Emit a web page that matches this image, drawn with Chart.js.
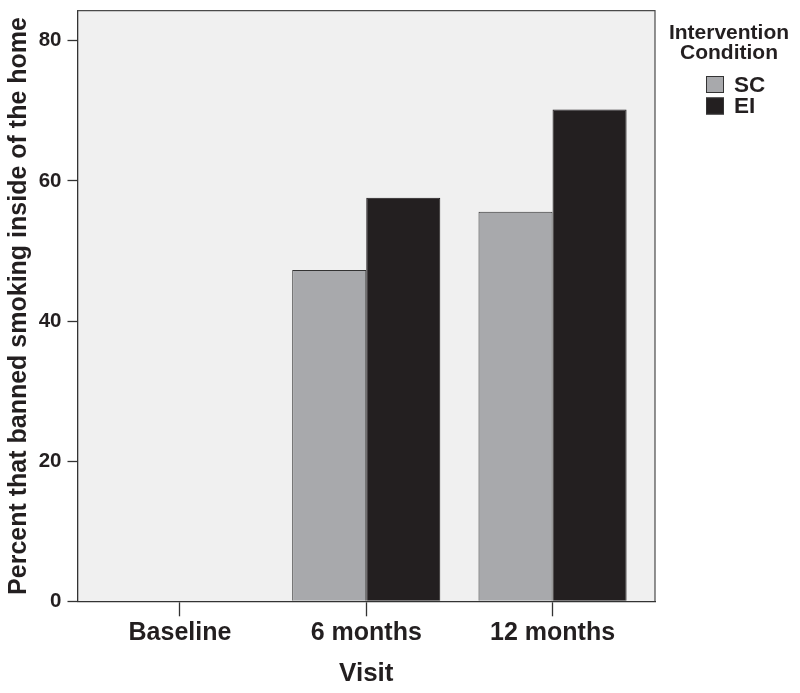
<!DOCTYPE html>
<html>
<head>
<meta charset="utf-8">
<script src="https://cdn.jsdelivr.net/npm/chart.js@4"></script>
<style>
    html, body { margin: 0; padding: 0; background: #fff; }
    #wrap { width: 800px; height: 693px; }
</style>
</head>
<body>
<div id="wrap"><canvas id="chart" width="800" height="693"></canvas></div>
<script>
// Visits on the x axis
const visits = ['Baseline', '6 months', '12 months'];

// Percent that banned smoking inside of the home, per condition
const scValues = [0, 47.3, 55.6];
const eiValues = [0, 57.6, 70.2];

const seriesNames = ['SC', 'EI'];
const seriesColours = ['#a8a9ac', '#231f20'];
const yTicks = [0, 20, 40, 60, 80];

const legendTitle = ['Intervention', 'Condition'];
const xTitle = 'Visit';
const yTitle = 'Percent that banned smoking inside of the home';

const FONT = "'Liberation Sans', Arial, sans-serif";
const INK = '#231f20';

/**
 * Grey plot background plus the top/right frame lines
 */
const plotFrame = {
    id: 'plotFrame',
    beforeDraw: (chart) => {
        const { ctx } = chart;
        const { left, top, right, bottom } = chart.chartArea;
        ctx.save();
        ctx.fillStyle = '#f0f0f0';
        ctx.fillRect(left, top, right - left, bottom - top);
        ctx.restore();
    },
    afterDraw: (chart) => {
        const { ctx } = chart;
        const { left, top, right, bottom } = chart.chartArea;
        ctx.save();
        ctx.strokeStyle = '#4a4a4a';
        ctx.lineWidth = 1.2;
        ctx.beginPath();
        ctx.moveTo(left, top);
        ctx.lineTo(right, top);
        ctx.lineTo(right, bottom);
        ctx.stroke();
        ctx.restore();
    },
};

/**
 * Legend on the right, SPSS style: two-line title and square swatches
 */
const sideLegend = {
    id: 'sideLegend',
    afterDraw: (chart) => {
        const { ctx } = chart;
        const cx = 729;
        ctx.save();
        ctx.fillStyle = INK;
        ctx.textAlign = 'center';
        ctx.textBaseline = 'middle';
        ctx.font = 'bold 21px ' + FONT;
        legendTitle.forEach((line, i) => ctx.fillText(line, cx, 33 + i * 20));

        ctx.textAlign = 'left';
        ctx.font = 'bold 22.5px ' + FONT;
        chart.data.datasets.forEach((ds, i) => {
            const y = 76 + i * 21.5;
            ctx.fillStyle = ds.backgroundColor;
            ctx.fillRect(706, y, 18, 17);
            ctx.strokeStyle = '#333';
            ctx.lineWidth = 1;
            ctx.strokeRect(706.5, y + 0.5, 17, 16);
            ctx.fillStyle = INK;
            ctx.fillText(ds.label, 734, y + 9.5);
        });
        ctx.restore();
    },
};

const toPoints = (values) => values.map((v, i) => ({ x: i, y: v }));

new Chart(document.getElementById('chart'), {
    type: 'bar',
    data: {
        datasets: [
            {
                label: seriesNames[0],
                data: toPoints(scValues),
                backgroundColor: seriesColours[0],
                borderColor: '#333',
                borderWidth: 1,
            },
            {
                label: seriesNames[1],
                data: toPoints(eiValues),
                backgroundColor: seriesColours[1],
                borderColor: '#1a1718',
                borderWidth: 1,
            },
        ],
    },
    plugins: [plotFrame, sideLegend],
    options: {
        responsive: false,
        animation: false,
        categoryPercentage: 0.795,
        barPercentage: 1,
        layout: {
            padding: { top: 10.7, right: 145, left: 0, bottom: 0 },
        },
        plugins: {
            legend: { display: false },
            tooltip: { enabled: false },
        },
        scales: {
            x: {
                type: 'linear',
                offset: false,
                min: -0.55,
                max: 2.55,
                afterFit: (scale) => {
                    scale.height = 91.7;
                    scale.paddingLeft = 0;
                    scale.paddingRight = 0;
                },
                afterBuildTicks: (scale) => {
                    scale.ticks = visits.map((_, i) => ({ value: i }));
                },
                ticks: {
                    color: INK,
                    font: { family: FONT, size: 25, weight: 'bold' },
                    padding: 2,
                    maxRotation: 0,
                    autoSkip: false,
                    callback: (v) => visits[v],
                },
                grid: {
                    offset: false,
                    drawOnChartArea: false,
                    drawTicks: true,
                    tickLength: 15,
                    tickColor: '#333',
                    tickWidth: 1.3,
                },
                border: { display: true, color: '#333', width: 1.3 },
                title: {
                    display: true,
                    text: xTitle,
                    color: INK,
                    font: { family: FONT, size: 26, weight: 'bold' },
                    padding: { top: 4, bottom: 4 },
                },
            },
            y: {
                min: 0,
                max: 84.3,
                afterFit: (scale) => {
                    scale.width = 77.5;
                    scale.paddingTop = 0;
                    scale.paddingBottom = 0;
                },
                afterBuildTicks: (scale) => {
                    scale.ticks = yTicks.map((v) => ({ value: v }));
                },
                ticks: {
                    color: INK,
                    font: { family: FONT, size: 20.5, weight: 'bold' },
                    padding: 6,
                },
                grid: {
                    drawOnChartArea: false,
                    drawTicks: true,
                    tickLength: 10,
                    tickColor: '#333',
                    tickWidth: 1.3,
                },
                border: { display: true, color: '#333', width: 1.3 },
                title: {
                    display: true,
                    text: yTitle,
                    color: INK,
                    font: { family: FONT, size: 25, weight: 'bold' },
                    padding: { top: 4, bottom: 3 },
                },
            },
        },
    },
});
</script>
</body>
</html>
